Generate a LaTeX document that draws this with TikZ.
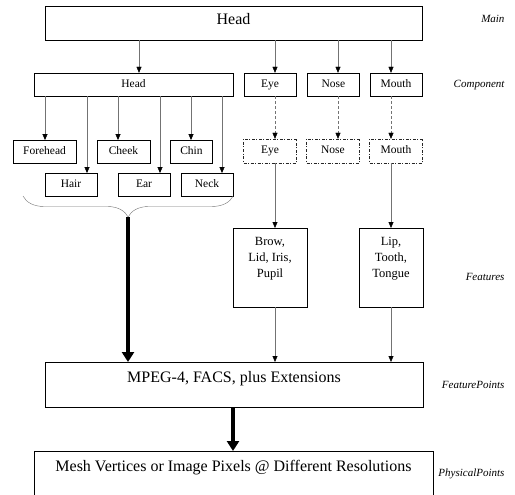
\documentclass[tikz,border=0pt]{standalone}
\usepackage{fontspec}
\setmainfont{Liberation Serif}
\usetikzlibrary{arrows.meta,decorations.pathreplacing}
\definecolor{linegray}{RGB}{115,115,115}
\tikzset{
  box/.style={rectangle,draw=black,inner sep=0pt,text height=1.5ex,text depth=.25ex,font=\fontsize{11.5}{13}\selectfont},
  dbox/.style={box,draw=black!85,dash pattern=on 3pt off 1.5pt on 1pt off 1.5pt},
  bigbox/.style={rectangle,draw=black,inner sep=0pt,anchor=north,font=\fontsize{16}{19}\selectfont},
  featbox/.style={rectangle,draw=black,inner sep=0pt,anchor=north,align=center,font=\fontsize{12.5}{16}\selectfont},
  lvl/.style={anchor=east,font=\fontsize{11}{12}\selectfont\itshape},
  arr/.style={draw=linegray,-{Triangle[length=6pt,width=5pt,color=black]}},
  darr/.style={arr,densely dashed},
  fatarr/.style={draw=black,line width=3.5pt,-{Triangle[length=10pt,width=12pt]}}
}
\begin{document}
\begin{tikzpicture}[x=1pt,y=-1pt]
  \clip (0,0) rectangle (515,495);
  % levels of the hierarchy
  \node[box,minimum width=377pt,minimum height=34pt,text depth=3pt,font=\fontsize{16}{19}\selectfont] (main) at (233.5,23) {Head};
  \node[box,minimum width=199pt,minimum height=23pt] (head) at (133.5,84.5) {Head};
  \foreach \x/\name/\txt in {270/eye/Eye, 333.5/nose/Nose, 396/mouth/Mouth}
    \node[box,minimum width=52pt,minimum height=23pt] (\name) at (\x,84.5) {\txt};
  \foreach \x/\y/\w/\name/\txt in {44.5/151.5/63/forehead/Forehead, 123.5/151.5/53/cheek/Cheek, 191.5/151.5/42/chin/Chin,
                                  71/184.5/52/hair/Hair, 144/184.5/52/ear/Ear, 207/184.5/52/neck/Neck}
    \node[box,minimum width=\w pt,minimum height=22.5pt] (\name) at (\x,\y) {\txt};
  \foreach \x/\name/\txt in {270/eyeS/Eye, 333/noseS/Nose, 396/mouthS/Mouth}
    \node[dbox,minimum width=53pt,minimum height=24pt] (\name) at (\x,151) {\txt};
  \node[featbox,minimum width=74pt,text height=49pt,text depth=30pt] (brow) at (270,228) {Brow,\\Lid, Iris,\\Pupil};
  \node[featbox,minimum width=64pt,text height=49pt,text depth=30pt] (lip) at (391,228) {Lip,\\Tooth,\\Tongue};
  \node[bigbox,minimum width=378pt,text height=20pt,text depth=25pt] (mpeg) at (234,362) {MPEG-4, FACS, plus Extensions};
  \node[bigbox,minimum width=399pt,text height=20pt,text depth=30pt] (mesh) at (233.5,451) {Mesh Vertices or Image Pixels @ Different Resolutions};

  % level names
  \node[lvl] (lMain) at (508,18.5) {Main};
  \node[lvl] (lComp) at (508,85) {Component};
  \node[lvl] (lFeat) at (508,277) {Features};
  \node[lvl] (lFP) at (508,385) {FeaturePoints};
  \node[lvl] (lPP) at (508,474) {PhysicalPoints};

  % connectors
  \foreach \x/\to in {139/head, 275/eye, 338/nose, 391/mouth}
    \draw[arr] (\x,0 |- main.south) -- (\x,0 |- \to.north);
  \foreach \x/\to in {45/forehead, 87/hair, 118/cheek, 160/ear, 191/chin, 222/neck}
    \draw[arr] (\x,0 |- head.south) -- (\x,0 |- \to.north);
  \foreach \x/\from/\to in {275/eye/eyeS, 338/nose/noseS, 391/mouth/mouthS}
    \draw[darr] (\x,0 |- \from.south) -- (\x,0 |- \to.north);
  \draw[arr] (275,0 |- eyeS.south) -- (275,0 |- brow.north);
  \draw[arr] (391,0 |- mouthS.south) -- (391,0 |- lip.north);
  \draw[arr] (275,0 |- brow.south) -- (275,0 |- mpeg.north);
  \draw[arr] (391,0 |- lip.south) -- (391,0 |- mpeg.north);

  \coordinate (braceL) at (23,196);
  \coordinate (braceTip) at (128,217);
  \draw[linegray,decorate,decoration={brace,mirror,amplitude=21pt}] (braceL) -- (neck.south east);
  \draw[fatarr] (braceTip) -- (braceTip |- mpeg.north);
  \draw[fatarr] (233,0 |- mpeg.south) -- (233,0 |- mesh.north);
\end{tikzpicture}
\end{document}
